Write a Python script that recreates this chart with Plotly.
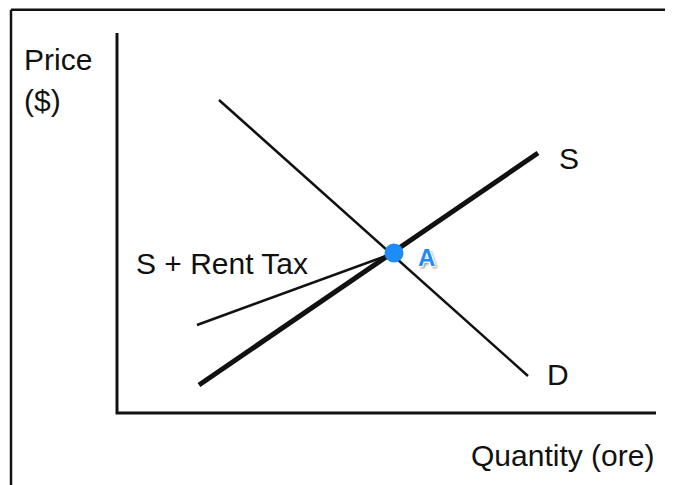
import plotly.graph_objects as go

# Data (abstract quantity/price units; origin at the axes corner)
axis_x = [0, 0, 539]
axis_y = [380, 0, 0]

demand_q = [102, 411]
demand_p = [313, 37]

supply_q = [82, 421]
supply_p = [28, 260]

tax_q = [80, 277]
tax_p = [88, 160]

eq_q = [277]
eq_p = [160]

FONT = "Liberation Sans, Arial, Helvetica, sans-serif"

fig = go.Figure()

fig.add_trace(go.Scatter(x=axis_x, y=axis_y, mode="lines",
                         line=dict(color="#111", width=3), hoverinfo="skip"))
fig.add_trace(go.Scatter(x=demand_q, y=demand_p, mode="lines",
                         line=dict(color="#111", width=2.5), hoverinfo="skip"))
fig.add_trace(go.Scatter(x=tax_q, y=tax_p, mode="lines",
                         line=dict(color="#111", width=2.5), hoverinfo="skip"))
fig.add_trace(go.Scatter(x=supply_q, y=supply_p, mode="lines",
                         line=dict(color="#111", width=5), hoverinfo="skip"))
fig.add_trace(go.Scatter(x=eq_q, y=eq_p, mode="markers",
                         marker=dict(color="#1f8bf7", size=19), hoverinfo="skip"))

annos = [
    dict(x=-95, y=354, text="Price", xanchor="left"),
    dict(x=-95, y=313, text="($)", xanchor="left"),
    dict(x=539, y=-42, text="Quantity (ore)", xanchor="right"),
    dict(x=105, y=150, text="S + Rent Tax", xanchor="center"),
    dict(x=452, y=255, text="S", xanchor="center"),
    dict(x=441, y=39, text="D", xanchor="center"),
]
for a in annos:
    fig.add_annotation(x=a["x"], y=a["y"], text=a["text"], xanchor=a["xanchor"],
                       yanchor="middle", showarrow=False,
                       font=dict(family=FONT, size=30, color="#111"))

fig.add_annotation(x=309, y=156, text="<b>A</b>", showarrow=False,
                   xanchor="center", yanchor="middle",
                   font=dict(family=FONT, size=24, color="#1f8bf7",
                             shadow="1px 1px 0px #fff, -1px -1px 0px #fff, 1px -1px 0px #fff, -1px 1px 0px #fff, 2px 2px 3px rgba(0,0,0,0.55)"))

# frame (page body has an 8px offset)
fig.add_shape(type="line", xref="paper", yref="paper",
              x0=3 / 673, x1=1.05, y0=1 - 1.8 / 485, y1=1 - 1.8 / 485,
              line=dict(color="#111", width=2.5))
fig.add_shape(type="line", xref="paper", yref="paper",
              x0=3 / 673, x1=3 / 673, y0=1 - 1.8 / 485, y1=-0.01,
              line=dict(color="#111", width=2.5))

fig.update_layout(
    width=673, height=485, autosize=False,
    margin=dict(l=0, r=0, t=0, b=0),
    paper_bgcolor="white", plot_bgcolor="white",
    showlegend=False,
    xaxis=dict(range=[-109, 564], visible=False, fixedrange=True),
    yaxis=dict(range=[-80, 405], visible=False, fixedrange=True),
)

fig.write_html("out.html")
